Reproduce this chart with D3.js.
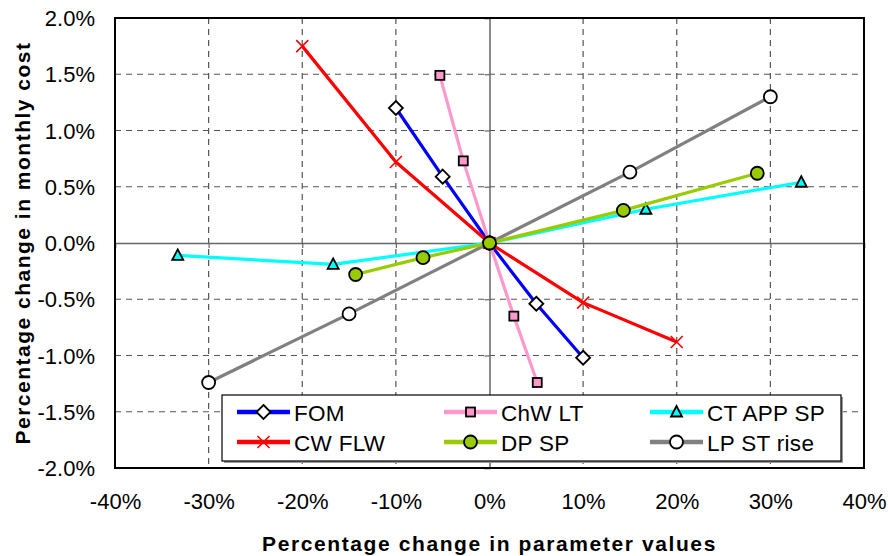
<!DOCTYPE html>
<html>
<head>
<meta charset="utf-8">
<script src="https://cdn.jsdelivr.net/npm/d3@7"></script>
<style>
  html, body { margin: 0; padding: 0; background: #fff; }
  svg { display: block; font-family: "Liberation Sans", Arial, sans-serif; }
</style>
</head>
<body>
<svg id="chart" width="888" height="556"></svg>
<script>
// Sensitivity of monthly cost to parameter changes (fractions, e.g. 0.1 = 10%)
const seriesNames = ["FOM", "ChW LT", "CT APP SP", "CW FLW", "DP SP", "LP ST rise"];

const fomX = [-0.10, -0.05, 0, 0.05, 0.10];
const fomY = [0.0120, 0.0059, 0, -0.0054, -0.0102];

const chwX = [-0.053, -0.028, 0, 0.026, 0.051];
const chwY = [0.0149, 0.0073, 0, -0.0065, -0.0124];

const ctX = [-0.333, -0.167, 0, 0.167, 0.333];
const ctY = [-0.0011, -0.0019, 0, 0.0030, 0.0054];

const cwX = [-0.20, -0.10, 0, 0.10, 0.20];
const cwY = [0.0175, 0.0072, 0, -0.0053, -0.0088];

const dpX = [-0.143, -0.071, 0, 0.143, 0.286];
const dpY = [-0.0028, -0.0013, 0, 0.0029, 0.0062];

const lpX = [-0.30, -0.15, 0, 0.15, 0.30];
const lpY = [-0.0124, -0.0063, 0, 0.0063, 0.0130];

const xTicks = [-0.4, -0.3, -0.2, -0.1, 0, 0.1, 0.2, 0.3, 0.4];
const yTicks = [-0.02, -0.015, -0.01, -0.005, 0, 0.005, 0.01, 0.015, 0.02];

const xTitle = "Percentage change in parameter values";
const yTitle = "Percentage change in monthly cost";

// Series styling (line colour, marker shape, marker fill)
const styles = {
  "FOM":        { color: "#0000ff", marker: "diamond",  fill: "#ffffff" },
  "ChW LT":     { color: "#ff99cc", marker: "square",   fill: "#ff99cc" },
  "CT APP SP":  { color: "#00ffff", marker: "triangle", fill: "#00ffff" },
  "CW FLW":     { color: "#ff0000", marker: "x",        fill: "none" },
  "DP SP":      { color: "#99cc00", marker: "circle",   fill: "#99cc00" },
  "LP ST rise": { color: "#808080", marker: "circle",   fill: "#ffffff" }
};

const seriesData = {
  "FOM": [fomX, fomY],
  "ChW LT": [chwX, chwY],
  "CT APP SP": [ctX, ctY],
  "CW FLW": [cwX, cwY],
  "DP SP": [dpX, dpY],
  "LP ST rise": [lpX, lpY]
};

const plot = { left: 115, right: 864, top: 18, bottom: 468 };

const x = d3.scaleLinear().domain([-0.4, 0.4]).range([plot.left, plot.right]);
const y = d3.scaleLinear().domain([-0.02, 0.02]).range([plot.bottom, plot.top]);

const svg = d3.select("#chart");
// Percent formats using a plain hyphen for negatives
const hy = s => s.replace("\u2212", "-");
const pct = v => hy(d3.format(".0%")(v));
const pct1 = v => hy(d3.format(".1%")(v));

// Dashed grid
const grid = svg.append("g");
grid.selectAll("line.gx")
  .data(xTicks.filter(t => t !== 0 && t > -0.4 && t < 0.4))
  .join("line")
  .attr("x1", d => x(d)).attr("x2", d => x(d))
  .attr("y1", plot.top).attr("y2", plot.bottom)
  .attr("stroke", "#555").attr("stroke-width", 1.2)
  .attr("stroke-dasharray", "6,5");
grid.selectAll("line.gy")
  .data(yTicks.filter(t => t !== 0 && t > -0.02 && t < 0.02))
  .join("line")
  .attr("x1", plot.left).attr("x2", plot.right)
  .attr("y1", d => y(d)).attr("y2", d => y(d))
  .attr("stroke", "#555").attr("stroke-width", 1.2)
  .attr("stroke-dasharray", "6,5");

// Axes crossing at zero, tick marks on the zero lines
const xAxisZero = d3.axisBottom(x).tickValues(xTicks).tickSize(5).tickFormat("");
const yAxisZero = d3.axisLeft(y).tickValues(yTicks).tickSize(5).tickFormat("");
const gxz = svg.append("g").attr("transform", `translate(0,${y(0)})`).call(xAxisZero);
const gyz = svg.append("g").attr("transform", `translate(${x(0)},0)`).call(yAxisZero);
[gxz, gyz].forEach(g => {
  g.select(".domain").attr("stroke", "#666").attr("stroke-width", 1.5);
  g.selectAll(".tick line").attr("stroke", "#666").attr("stroke-width", 1.2);
});

// Tick labels along the plot edges
const xLab = d3.axisBottom(x).tickValues(xTicks).tickSize(0).tickPadding(0).tickFormat(pct);
const yLab = d3.axisLeft(y).tickValues(yTicks).tickSize(0).tickPadding(0).tickFormat(pct1);
const gxl = svg.append("g").attr("transform", `translate(0,${plot.bottom})`).call(xLab);
const gyl = svg.append("g").attr("transform", `translate(${plot.left},0)`).call(yLab);
[gxl, gyl].forEach(g => g.select(".domain").remove());
gxl.selectAll("text")
  .attr("font-size", 22).attr("font-family", "Liberation Sans, Arial, sans-serif")
  .attr("fill", "#000").attr("dy", null).attr("y", 41);
gyl.selectAll("text")
  .attr("font-size", 22).attr("font-family", "Liberation Sans, Arial, sans-serif")
  .attr("fill", "#000").attr("dy", null).attr("x", -20).attr("y", 7.5);

// Plot frame
svg.append("rect")
  .attr("x", plot.left).attr("y", plot.top)
  .attr("width", plot.right - plot.left).attr("height", plot.bottom - plot.top)
  .attr("fill", "none").attr("stroke", "#000").attr("stroke-width", 2);

// Marker drawing
function drawMarker(g, type, color, fill, scale) {
  const s = scale || 1;
  if (type === "diamond") {
    const r = 7 * s;
    g.append("path").attr("d", `M0,${-r}L${r},0L0,${r}L${-r},0Z`)
      .attr("fill", fill).attr("stroke", "#000").attr("stroke-width", 1.8);
  } else if (type === "square") {
    const h = 4.5 * s;
    g.append("rect").attr("x", -h).attr("y", -h).attr("width", 2 * h).attr("height", 2 * h)
      .attr("fill", fill).attr("stroke", "#000").attr("stroke-width", 1.8);
  } else if (type === "triangle") {
    const w = 5.5 * s;
    g.append("path").attr("d", `M0,${-6 * s}L${w},${4.5 * s}L${-w},${4.5 * s}Z`)
      .attr("fill", fill).attr("stroke", "#000").attr("stroke-width", 1.8);
  } else if (type === "x") {
    const r = 6 * s;
    g.append("path").attr("d", `M${-r},${-r}L${r},${r}M${-r},${r}L${r},${-r}`)
      .attr("stroke", color).attr("stroke-width", 1.6).attr("fill", "none");
  } else if (type === "circle") {
    g.append("circle").attr("r", 6.5 * s)
      .attr("fill", fill).attr("stroke", "#000").attr("stroke-width", 1.8);
  }
}

// Series: lines then markers, one series at a time
const drawOrder = ["FOM", "ChW LT", "CT APP SP", "CW FLW", "LP ST rise", "DP SP"];
const line = d3.line().x(d => x(d[0])).y(d => y(d[1]));
drawOrder.forEach(name => {
  const st = styles[name];
  const [xs, ys] = seriesData[name];
  const pts = xs.map((v, i) => [v, ys[i]]);
  const g = svg.append("g");
  g.append("path").datum(pts).attr("d", line)
    .attr("fill", "none").attr("stroke", st.color).attr("stroke-width", 3.2)
    .attr("stroke-linejoin", "round");
  pts.forEach(p => {
    const m = g.append("g").attr("transform", `translate(${x(p[0])},${y(p[1])})`);
    drawMarker(m, st.marker, st.color, st.fill, 1);
  });
});

// Legend
const legend = svg.append("g");
const lg = { x: 222, y: 395, w: 619, h: 66 };
legend.append("rect")
  .attr("x", lg.x + 2).attr("y", lg.y + 2).attr("width", lg.w).attr("height", lg.h)
  .attr("fill", "#999");
legend.append("rect")
  .attr("x", lg.x).attr("y", lg.y).attr("width", lg.w).attr("height", lg.h)
  .attr("fill", "#fff").attr("stroke", "#000").attr("stroke-width", 1.2);
const colX = [237, 444, 650];
const rowY = [412, 442];
seriesNames.forEach((name, i) => {
  const st = styles[name];
  const cx = colX[i % 3], cy = rowY[Math.floor(i / 3)];
  const e = legend.append("g").attr("transform", `translate(${cx},${cy})`);
  e.append("line").attr("x1", 0).attr("x2", 53).attr("y1", 0).attr("y2", 0)
    .attr("stroke", st.color).attr("stroke-width", 4.5);
  const m = e.append("g").attr("transform", "translate(26.5,0)");
  drawMarker(m, st.marker, st.color, st.fill, 1);
  e.append("text").attr("x", 57).attr("y", 5.5 + (i < 3 ? 0 : 0.5))
    .attr("dy", "0.15em")
    .attr("font-size", 22.5).attr("letter-spacing", 0.3).attr("fill", "#000").text(name);
});

// Axis titles
svg.append("text")
  .attr("x", x(0)).attr("y", 551)
  .attr("text-anchor", "middle")
  .attr("font-size", 21).attr("font-weight", "bold")
  .attr("letter-spacing", 1.6)
  .text(xTitle);
svg.append("text")
  .attr("transform", `translate(30,${y(0)}) rotate(-90)`)
  .attr("text-anchor", "middle")
  .attr("font-size", 21).attr("font-weight", "bold")
  .attr("letter-spacing", 1.5)
  .text(yTitle);
</script>
</body>
</html>
